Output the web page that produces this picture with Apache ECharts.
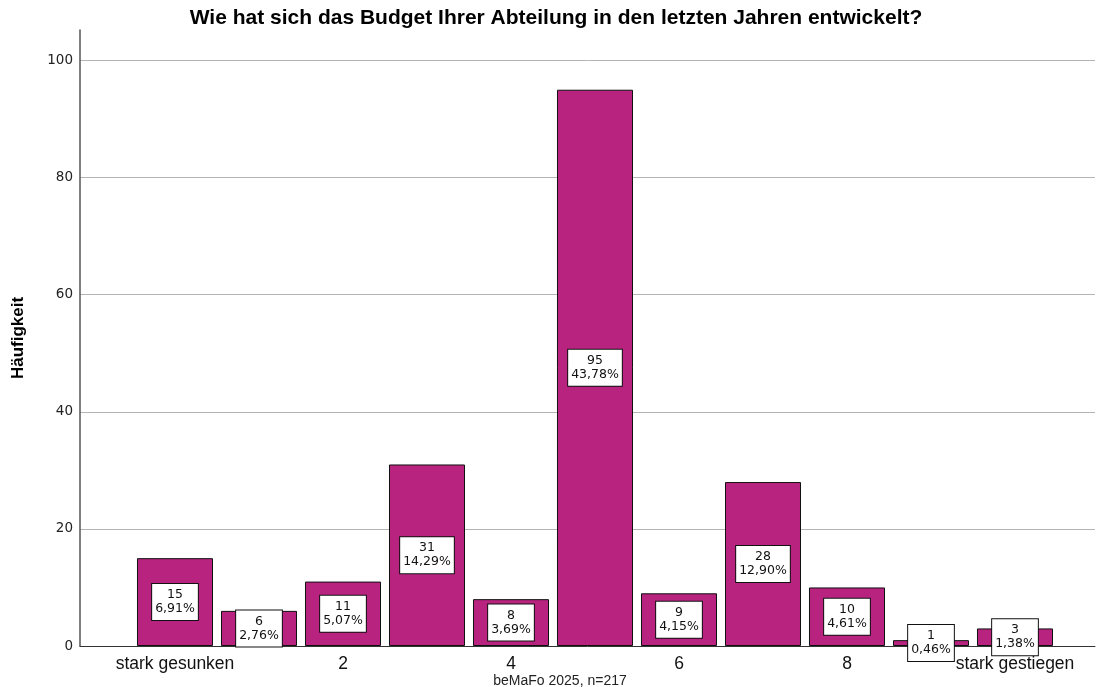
<!DOCTYPE html>
<html>
<head>
<meta charset="utf-8">
<script src="https://cdn.jsdelivr.net/npm/echarts@6/dist/echarts.min.js"></script>
<style>
  html, body { margin: 0; padding: 0; background: #fff; }
  #chart { width: 1104px; height: 687px; }
</style>
</head>
<body>
<div id="chart"></div>
<script>
// Answer scale from "stark gesunken" (0) to "stark gestiegen" (10)
const categories = ['stark gesunken', '1', '2', '3', '4', '5', '6', '7', '8', '9', 'stark gestiegen'];
const counts = [15, 6, 11, 31, 8, 95, 9, 28, 10, 1, 3];
const yTicks = [0, 20, 40, 60, 80, 100];

const total = counts.reduce((a, b) => a + b, 0);
const yMax = 105.2;

const chart = echarts.init(document.getElementById('chart'));
chart.setOption({
  animation: false,
  backgroundColor: '#ffffff',
  title: [
    {
      text: 'Wie hat sich das Budget Ihrer Abteilung in den letzten Jahren entwickelt?',
      left: 551, top: 3, textAlign: 'center',
      textStyle: { fontFamily: 'Liberation Sans', fontSize: 21, fontWeight: 'bold', color: '#000' }
    },
    {
      text: 'beMaFo 2025, n=217',
      left: 555, top: 669, textAlign: 'center',
      textStyle: { fontFamily: 'Liberation Sans', fontSize: 14, fontWeight: 'normal', color: '#222' }
    }
  ],
  grid: [
    // frame: value axis, gridlines and baseline
    { left: 80, right: 9, top: 30, bottom: 41, containLabel: false },
    // bars, inset from the frame on both sides
    { left: 133, right: 47, top: 30, bottom: 41, containLabel: false }
  ],
  xAxis: [
    {
      gridIndex: 0, type: 'value', min: 0, max: 1,
      axisLine: { show: true, onZero: false, lineStyle: { color: '#333', width: 1 } },
      axisTick: { show: false }, axisLabel: { show: false }, splitLine: { show: false }
    },
    {
      gridIndex: 1, type: 'category', data: categories,
      axisLine: { show: false },
      axisTick: { show: false },
      axisLabel: {
        interval: 1,
        margin: 9,
        fontFamily: 'Liberation Sans', fontSize: 17.5, color: '#111'
      }
    }
  ],
  yAxis: [
    {
      gridIndex: 0, type: 'value',
      min: yTicks[0], max: yMax, interval: 20,
      name: 'Häufigkeit',
      nameLocation: 'middle',
      nameRotate: 90,
      nameGap: 53,
      nameTextStyle: { fontFamily: 'Liberation Sans', fontSize: 17, fontWeight: 'bold', color: '#000' },
      axisLine: { show: true, lineStyle: { color: '#555', width: 1.5 } },
      axisTick: { show: false },
      axisLabel: {
        showMaxLabel: false,
        margin: 7,
        fontFamily: 'DejaVu Sans', fontSize: 13.5, color: '#222',
        formatter: v => (yTicks.includes(v) ? String(v) : '')
      },
      splitLine: { show: true, showMinLine: false, showMaxLine: false, lineStyle: { color: '#b4b4b4', width: 1 } }
    },
    {
      gridIndex: 1, type: 'value',
      min: yTicks[0], max: yMax, interval: 20,
      show: false
    }
  ],
  series: [{
    type: 'bar',
    xAxisIndex: 1, yAxisIndex: 1,
    data: counts,
    barCategoryGap: '9.5%',
    itemStyle: { color: '#B8237F', borderColor: '#111', borderWidth: 1 },
    label: {
      show: true,
      position: 'inside',
      formatter: p => p.value + '\n' + (p.value / total * 100).toFixed(2).replace('.', ',') + '%',
      fontFamily: 'DejaVu Sans', fontSize: 12.5, lineHeight: 14, color: '#111',
      backgroundColor: '#fff', borderColor: '#111', borderWidth: 1,
      padding: [4, 3, 4, 3]
    },
    labelLayout: { hideOverlap: false }
  }]
});
</script>
</body>
</html>
